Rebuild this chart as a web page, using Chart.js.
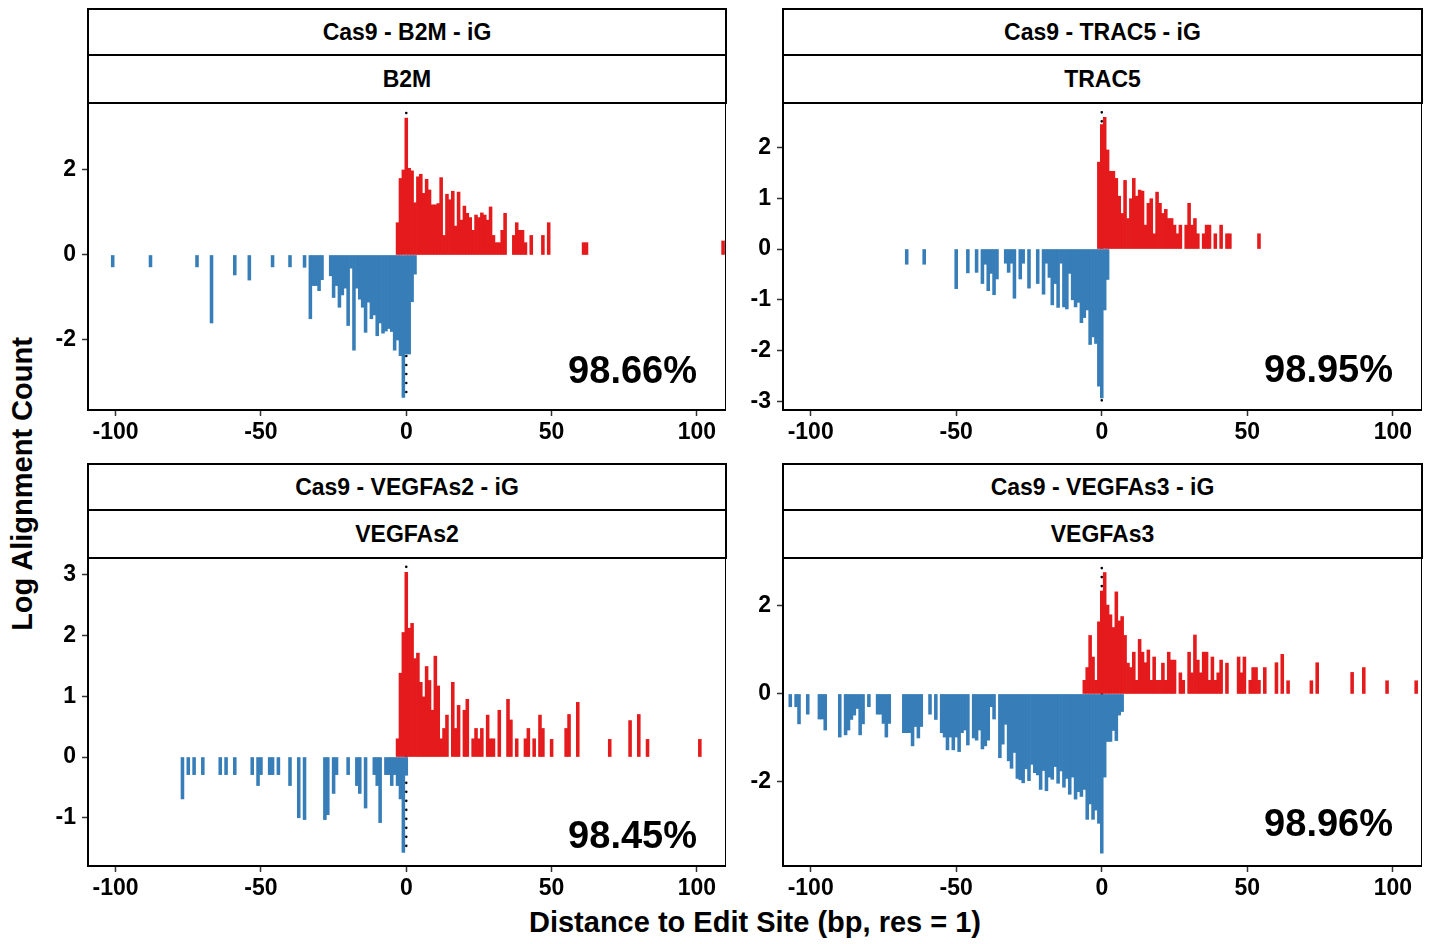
<!DOCTYPE html>
<html lang="en">
<head>
<meta charset="UTF-8">
<title>Alignments around edit site</title>
<style>
  html, body { margin: 0; padding: 0; background: #fff; overflow: hidden; }
  #wrap { position: relative; width: 1435px; height: 944px; font-family: 'Liberation Sans', Arial, sans-serif; color: #000; }
  canvas { position: absolute; }
  .strip { position: absolute; box-sizing: border-box; border: 2px solid #000; background: #fff;
           font-weight: bold; font-size: 23px; display: flex; align-items: center; justify-content: center; }
  .pct { position: absolute; width: 220px; text-align: right; font-weight: bold; font-size: 38px; line-height: 1; }
  .title { position: absolute; font-weight: bold; font-size: 29px; line-height: 1; white-space: nowrap; transform: translate(-50%, -50%); }
</style>
</head>
<body>
<div id="wrap">
  <div class="title" style="left:755px; top:922px">Distance to Edit Site (bp, res = 1)</div>
  <div class="title" style="left:22px; top:484px; transform: translate(-50%, -50%) rotate(-90deg)">Log Alignment Count</div>
</div>

<script src="https://cdn.jsdelivr.net/npm/chart.js@4/dist/chart.umd.min.js"></script>
<script>
  // x ticks shared by all panels
  const xTicks = [-100, -50, 0, 50, 100]

  // B2M
  const b2mBlueX = [-101, -88, -72, -67, -59, -54, -46, -40, -35, -33, -32, -31, -30, -29,
    -26, -25, -24, -23, -22, -21, -20, -19, -18, -17, -16, -15, -14, -13, -12, -11, -10, -9, -8, -7,
    -6, -5, -4, -3, -2, -1, 0, 1, 2, 3]
  const b2mBlueY = [-0.28, -0.28, -0.28, -1.6, -0.47, -0.59, -0.28, -0.28, -0.29, -1.5, -0.72, -0.72, -0.84, -0.58,
    -0.49, -1.0, -0.72, -1.23, -0.94, -0.78, -1.66, -0.31, -2.24, -0.78, -1.04, -1.23, -1.82, -1.11, -1.5, -1.41, -1.9, -1.6, -1.84, -1.79,
    -1.73, -1.8, -2.24, -2.0, -2.37, -3.35, -2.33, -2.33, -1.1, -0.45]
  const b2mRedX = [-3, -2, -1, 0, 1, 2, 3, 4, 5, 6, 7, 8, 9, 10, 11, 12, 13, 14, 15, 16, 17, 18, 19,
    20, 21, 22, 23, 24, 25, 26, 27, 28, 29, 30, 31, 32, 33, 34, 37, 38, 39, 40, 41, 43, 47, 49, 61, 62, 109]
  const b2mRedY = [0.76, 1.8, 2.0, 3.22, 2.04, 1.98, 1.23, 1.84, 1.9, 1.45, 1.78, 1.53, 1.18, 1.18, 1.21, 1.82, 0.46, 1.43, 1.3, 1.5, 0.68, 1.48, 0.82,
    1.15, 0.98, 0.88, 0.58, 0.94, 0.88, 0.99, 0.94, 0.82, 1.13, 0.46, 0.29, 0.29, 0.58, 0.98, 0.46, 0.76, 0.58, 0.58, 0.29, 0.46, 0.46, 0.76, 0.29, 0.29, 0.33]
  const b2mYTicks = [-2, 0, 2]

  // TRAC5
  const trac5BlueX = [-67, -61, -50, -46, -43, -41, -40, -39, -38, -37, -36, -33, -32, -31, -30, -28, -27, -25, -22,
    -20, -19, -18, -17, -16, -15, -14, -13, -12, -11, -10, -9, -8, -7, -6, -5, -4, -3, -2, -1, 0, 1, 2]
  const trac5BlueY = [-0.3, -0.3, -0.78, -0.47, -0.46, -0.68, -0.3, -0.82, -0.48, -0.9, -0.59, -0.28, -0.46, -0.28, -0.97, -0.59, -0.28, -0.77, -0.68,
    -0.89, -0.28, -0.56, -1.1, -0.68, -1.15, -0.28, -1.14, -1.18, -0.48, -1.0, -1.14, -1.05, -1.45, -1.35, -1.2, -1.88, -1.73, -1.86, -2.7, -2.93, -1.2, -0.6]
  const trac5RedX = [-1, 0, 1, 2, 3, 4, 5, 6, 7, 8, 9, 10, 11, 12, 13, 14, 15, 16, 17, 18, 19, 20, 21, 22, 23, 24, 25, 26, 27,
    29, 30, 31, 32, 33, 35, 36, 37, 39, 41, 43, 44, 54]
  const trac5RedY = [1.71, 2.45, 2.59, 1.95, 1.53, 1.53, 1.39, 1.04, 0.7, 1.35, 0.6, 0.99, 1.39, 1.04, 1.16, 1.14, 0.47, 0.9, 0.99, 0.3, 1.12, 0.9, 0.7, 0.78, 0.6, 0.6, 0.47, 0.3, 0.47,
    0.47, 0.9, 0.47, 0.6, 0.3, 0.3, 0.47, 0.47, 0.3, 0.47, 0.3, 0.3, 0.3]
  const trac5YTicks = [-3, -2, -1, 0, 1, 2]

  // VEGFAs2
  const vegf2BlueX = [-77, -75, -73, -70, -64, -62, -59, -53, -51, -50, -47, -46, -44, -40, -37, -35, -28, -27, -25, -24,
    -20, -17, -16, -14, -11, -10, -9, -7, -6, -5, -4, -3, -2, -1, 0]
  const vegf2BlueY = [-0.69, -0.29, -0.29, -0.29, -0.29, -0.29, -0.29, -0.29, -0.47, -0.29, -0.29, -0.29, -0.29, -0.47, -1.0, -1.03, -1.03, -0.95, -0.6, -0.29,
    -0.29, -0.47, -0.6, -0.84, -0.29, -0.47, -1.08, -0.29, -0.29, -0.47, -0.29, -0.47, -0.69, -1.57, -0.3]
  const vegf2RedX = [-3, -2, -1, 0, 1, 2, 3, 4, 5, 6, 7, 8, 9, 10, 11, 12, 13, 14, 16, 17, 18, 20, 21, 23, 24, 25, 26,
    28, 29, 30, 32, 35, 36, 38, 41, 42, 44, 46, 47, 50, 55, 56, 59, 70, 77, 80, 83, 101]
  const vegf2RedY = [0.3, 1.38, 2.05, 3.04, 2.12, 2.2, 1.62, 1.71, 1.23, 0.99, 1.49, 1.26, 0.77, 1.66, 1.17, 0.3, 0.47, 0.69, 1.23, 0.47, 0.85, 0.77, 0.95, 0.3, 0.47, 0.3, 0.47,
    0.69, 0.3, 0.3, 0.77, 0.95, 0.61, 0.3, 0.3, 0.47, 0.3, 0.69, 0.47, 0.29, 0.47, 0.7, 0.9, 0.29, 0.6, 0.7, 0.29, 0.29]
  const vegf2YTicks = [-1, 0, 1, 2, 3]

  // VEGFAs3
  const vegf3BlueX = [-107, -105, -104, -101, -97, -96, -95, -90, -88, -87, -86, -85, -84, -83, -82, -80, -77, -76, -75, -74,
    -73, -68, -67, -66, -65, -64, -63, -62, -59, -57, -55, -54, -53, -52, -51, -50, -49, -48, -47, -46,
    -44, -43, -42, -41, -40, -39, -38, -37, -35, -34, -33, -32, -31, -30, -29, -28, -27, -26,
    -25, -24, -23, -22, -21, -20, -19, -18, -17, -16, -15, -14, -13, -12, -11, -10, -9, -8, -7, -6,
    -5, -4, -3, -2, -1, 0, 1, 2, 3, 4, 5, 6, 7]
  const vegf3BlueY = [-0.29, -0.29, -0.68, -0.46, -0.57, -0.57, -0.82, -0.98, -0.93, -0.82, -0.58, -0.48, -0.33, -0.93, -0.68, -0.29, -0.46, -0.46, -0.67, -0.98,
    -0.67, -0.88, -0.88, -0.88, -1.18, -0.74, -1.0, -0.74, -0.46, -0.58, -0.88, -0.98, -1.27, -0.98, -1.27, -0.98, -1.31, -0.88, -0.82, -1.16,
    -1.0, -1.05, -0.82, -1.25, -1.18, -1.05, -0.29, -0.57, -1.45, -1.14, -0.69, -1.52, -1.69, -1.33, -1.92, -1.95, -2.02, -1.7,
    -1.97, -1.6, -1.79, -1.84, -2.17, -1.74, -2.2, -1.89, -1.94, -1.65, -2.03, -1.75, -2.12, -1.92, -2.28, -1.89, -2.39, -2.22, -2.33, -2.17,
    -2.85, -2.5, -2.85, -2.64, -2.94, -3.62, -1.89, -1.08, -1.08, -0.83, -1.06, -0.48, -0.4]
  const vegf3RedX = [-6, -5, -4, -3, -2, -1, 0, 1, 2, 3, 4, 5, 6, 7, 8, 9, 10, 11, 12, 13, 14, 15, 16, 17, 18, 19, 20, 21, 22, 23, 24, 25,
    27, 28, 30, 31, 32, 33, 34, 35, 36, 37, 38, 39, 40, 41, 43, 47, 48, 49, 51, 52, 53, 54, 56, 60, 62, 64, 72, 74, 86, 90, 98, 108]
  const vegf3RedY = [0.31, 0.6, 1.33, 0.84, 0.31, 1.64, 2.34, 2.76, 2.02, 1.8, 1.51, 2.32, 1.66, 1.76, 1.33, 0.7, 0.6, 0.95, 0.31, 1.24, 0.95, 0.71, 1.0, 0.31, 0.84, 0.31, 0.31, 0.7, 0.31, 0.95, 0.77, 0.77,
    0.48, 0.31, 0.95, 0.48, 1.34, 0.77, 0.48, 0.95, 0.95, 0.31, 0.84, 0.31, 0.48, 0.77, 0.7, 0.84, 0.48, 0.84, 0.31, 0.6, 0.6, 0.31, 0.6, 0.71, 0.9, 0.3, 0.3, 0.71, 0.49, 0.6, 0.3, 0.3]
  const vegf3YTicks = [-2, 0, 2]

  // facet labels and on-plot percentages
  const outerStrips = ['Cas9 - B2M - iG', 'Cas9 - TRAC5 - iG', 'Cas9 - VEGFAs2 - iG', 'Cas9 - VEGFAs3 - iG']
  const innerStrips = ['B2M', 'TRAC5', 'VEGFAs2', 'VEGFAs3']
  const pctLabels = ['98.66%', '98.95%', '98.45%', '98.96%']
  // ends of the dotted line at x = 0 (top, bottom)
  const dotEnds = [[3.34, -3.36], [2.69, -3.0], [3.13, -1.61], [2.86, -3.62]]

  const RED = '#E41A1C'
  const BLUE = '#377EB8'
  const FONT = 'Liberation Sans'
  const YAXIS_W = 48
  const XAXIS_H = 40

  const panels = [
    { left: 88, top: 103, w: 638, h: 307, ymin: -3.647, ymax: 3.576, yTicks: b2mYTicks, pctY: 370,
      blueX: b2mBlueX, blueY: b2mBlueY, redX: b2mRedX, redY: b2mRedY },
    { left: 783, top: 103, w: 639, h: 307, ymin: -3.169, ymax: 2.874, yTicks: trac5YTicks, pctY: 369,
      blueX: trac5BlueX, blueY: trac5BlueY, redX: trac5RedX, redY: trac5RedY },
    { left: 88, top: 558, w: 638, h: 308, ymin: -1.794, ymax: 3.276, yTicks: vegf2YTicks, pctY: 835,
      blueX: vegf2BlueX, blueY: vegf2BlueY, redX: vegf2RedX, redY: vegf2RedY },
    { left: 783, top: 558, w: 639, h: 308, ymin: -3.91, ymax: 3.09, yTicks: vegf3YTicks, pctY: 823,
      blueX: vegf3BlueX, blueY: vegf3BlueY, redX: vegf3RedX, redY: vegf3RedY }
  ]

  // black box round the plotting area
  const frame = {
    id: 'frame',
    afterDatasetsDraw(chart) {
      const { ctx, chartArea: a } = chart
      ctx.save()
      ctx.strokeStyle = '#000'
      ctx.lineWidth = 2
      ctx.strokeRect(a.left, a.top, a.right - a.left, a.bottom - a.top)
      ctx.restore()
    }
  }

  const wrap = document.getElementById('wrap')

  function addDiv(cls, text, style) {
    const d = document.createElement('div')
    d.className = cls
    d.textContent = text
    Object.assign(d.style, style)
    wrap.appendChild(d)
  }

  function tickFont() {
    return { family: FONT, size: 23, weight: 'bold' }
  }

  // fixed axis sizes so the plotting area lands where the panel box is
  function fixX(s) {
    s.height = XAXIS_H
    s.paddingLeft = 0
    s.paddingRight = 0
  }
  function fixY(s) {
    s.width = YAXIS_W
    s.paddingTop = 0
    s.paddingBottom = 0
  }

  panels.forEach((p, i) => {
    // strips
    addDiv('strip', outerStrips[i], { left: (p.left - 1) + 'px', top: (p.top - 95) + 'px', width: (p.w + 2) + 'px', height: '48px' })
    addDiv('strip', innerStrips[i], { left: (p.left - 1) + 'px', top: (p.top - 49) + 'px', width: (p.w + 2) + 'px', height: '50px' })

    const cv = document.createElement('canvas')
    cv.width = p.w + YAXIS_W
    cv.height = p.h + XAXIS_H
    cv.style.left = (p.left - YAXIS_W) + 'px'
    cv.style.top = p.top + 'px'
    wrap.appendChild(cv)

    new Chart(cv, {
      type: 'bar',
      data: {
        datasets: [
          {
            type: 'line',
            data: [{ x: 0, y: dotEnds[i][0] }, { x: 0, y: dotEnds[i][1] }],
            borderColor: '#000',
            borderWidth: 2.6,
            borderDash: [0, 9],
            borderCapStyle: 'round',
            pointRadius: 0,
            order: 5
          },
          {
            data: p.redX.map((x, k) => ({ x, y: p.redY[k] })),
            backgroundColor: RED,
            order: 1
          },
          {
            data: p.blueX.map((x, k) => ({ x, y: p.blueY[k] })),
            backgroundColor: BLUE,
            order: 1
          }
        ]
      },
      options: {
        responsive: false,
        animation: false,
        layout: { padding: 0, autoPadding: false },
        datasets: {
          bar: { grouped: false, barPercentage: 1, categoryPercentage: 1, borderWidth: 0 }
        },
        plugins: { legend: { display: false }, tooltip: { enabled: false } },
        scales: {
          x: {
            type: 'linear',
            min: -109.5,
            max: 110,
            offset: false,
            afterBuildTicks: s => { s.ticks = xTicks.map(v => ({ value: v })) },
            afterFit: fixX,
            grid: { offset: false, drawOnChartArea: false, drawTicks: true, tickLength: 6, tickColor: '#333', tickWidth: 1.5 },
            border: { display: false },
            ticks: { color: '#000', font: tickFont(), padding: 3, maxRotation: 0, autoSkip: false, callback: v => String(v) }
          },
          y: {
            type: 'linear',
            min: p.ymin,
            max: p.ymax,
            afterBuildTicks: s => { s.ticks = p.yTicks.map(v => ({ value: v })) },
            afterFit: fixY,
            grid: { offset: false, drawOnChartArea: false, drawTicks: true, tickLength: 6, tickColor: '#333', tickWidth: 1.5 },
            border: { display: false },
            ticks: { color: '#000', font: tickFont(), padding: 6, autoSkip: false, callback: v => String(v) }
          }
        }
      },
      plugins: [frame]
    })

    addDiv('pct', pctLabels[i], { left: (p.left + p.w - 29 - 220) + 'px', top: (p.pctY - 19) + 'px' })
  })
</script>
</body>
</html>
